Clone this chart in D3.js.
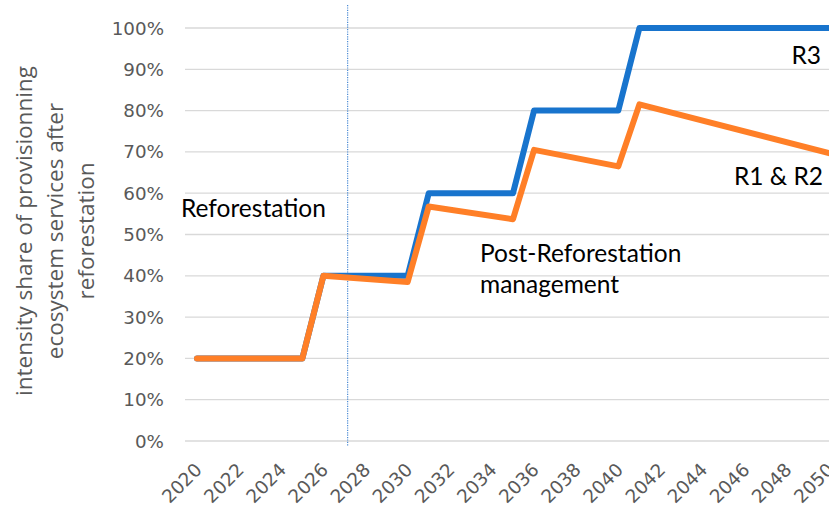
<!DOCTYPE html>
<html>
<head>
<meta charset="utf-8">
<script src="https://cdnjs.cloudflare.com/ajax/libs/d3/7.8.5/d3.min.js"></script>
<style>
  html, body { margin: 0; padding: 0; background: #fff; }
  svg { display: block; }
</style>
</head>
<body>
<div id="vis"></div>
<script>
// years shown on the category axis
var yearTicks = d3.range(2020, 2051, 2);
var pctTicks = [0, 10, 20, 30, 40, 50, 60, 70, 80, 90, 100];

// series values (year, %) at the points where the line turns
var r3Years = [2020, 2025, 2026, 2030, 2031, 2035, 2036, 2040, 2041, 2050];
var r3Values = [20, 20, 40, 40, 60, 60, 80, 80, 100, 100];
var r12Years = [2020, 2025, 2026, 2030, 2031, 2035, 2036, 2040, 2041, 2050];
var r12Values = [20, 20, 40, 38.5, 56.8, 53.7, 70.5, 66.5, 81.5, 69.7];

var markerYear = 2027.15;

var width = 829;
var height = 505;
var blue = "#1874cd";
var orange = "#ff7f27";
var grey = "#595959";
var tickFont = "'DejaVu Sans', sans-serif";

var svg = d3.select("#vis").append("svg")
    .attr("width", width)
    .attr("height", height);

var x = d3.scaleLinear().domain([2020, 2050]).range([197, 829]);
var y = d3.scaleLinear().domain([0, 100]).range([441, 28]);

// gridlines
svg.append("g")
    .selectAll("line")
    .data(pctTicks)
    .join("line")
    .attr("x1", 185)
    .attr("x2", 845)
    .attr("y1", d => y(d))
    .attr("y2", d => y(d))
    .attr("stroke", "#d9d9d9")
    .attr("stroke-width", 1.3);

// y tick labels
svg.append("g")
    .selectAll("text")
    .data(pctTicks)
    .join("text")
    .attr("x", 164)
    .attr("y", d => y(d) + 6.5)
    .attr("text-anchor", "end")
    .attr("font-family", tickFont)
    .attr("font-size", 18.3)
    .attr("fill", grey)
    .text(d => d + "%");

// x tick labels, rotated
svg.append("g")
    .selectAll("text")
    .data(yearTicks)
    .join("text")
    .attr("transform", d => "translate(" + (x(d) + 6) + ",471) rotate(-45)")
    .attr("text-anchor", "end")
    .attr("font-family", tickFont)
    .attr("font-size", 18.5)
    .attr("fill", grey)
    .text(d => d);

// y axis title
var title = svg.append("text")
    .attr("transform", "translate(-3,231) rotate(-90)")
    .attr("text-anchor", "middle")
    .attr("font-family", "'Open Sans', sans-serif")
    .attr("font-size", 22.5)
    .attr("fill", grey);
["intensity share of provisionning", "ecosystem services after", "reforestation"].forEach(function (t, i) {
    title.append("tspan").attr("x", 0).attr("y", 35 + i * 31).text(t);
});

// dotted marker line
svg.append("line")
    .attr("x1", x(markerYear))
    .attr("x2", x(markerYear))
    .attr("y1", 5)
    .attr("y2", 446)
    .attr("stroke", "#4a8ad4")
    .attr("stroke-width", 1.2)
    .attr("stroke-dasharray", "1.2,1.2");

var line = d3.line()
    .x(d => x(d[0]))
    .y(d => y(d[1]));

svg.append("path")
    .datum(d3.zip(r3Years, r3Values))
    .attr("d", line)
    .attr("fill", "none")
    .attr("stroke", blue)
    .attr("stroke-width", 6)
    .attr("stroke-linejoin", "round")
    .attr("stroke-linecap", "round");

svg.append("path")
    .datum(d3.zip(r12Years, r12Values))
    .attr("d", line)
    .attr("fill", "none")
    .attr("stroke", orange)
    .attr("stroke-width", 6)
    .attr("stroke-linejoin", "round")
    .attr("stroke-linecap", "round");

// annotations
function note(tx, ty, anchor, str) {
    svg.append("text")
        .attr("x", tx)
        .attr("y", ty)
        .attr("text-anchor", anchor)
        .attr("font-family", "Lato, 'Open Sans', sans-serif")
        .attr("font-size", 24.5)
        .attr("fill", "#000")
        .text(str);
}
note(181, 217, "start", "Reforestation");
note(480, 262, "start", "Post-Reforestation");
note(480, 293, "start", "management");
note(821, 64, "end", "R3");
note(823, 185, "end", "R1 & R2");
</script>
</body>
</html>
